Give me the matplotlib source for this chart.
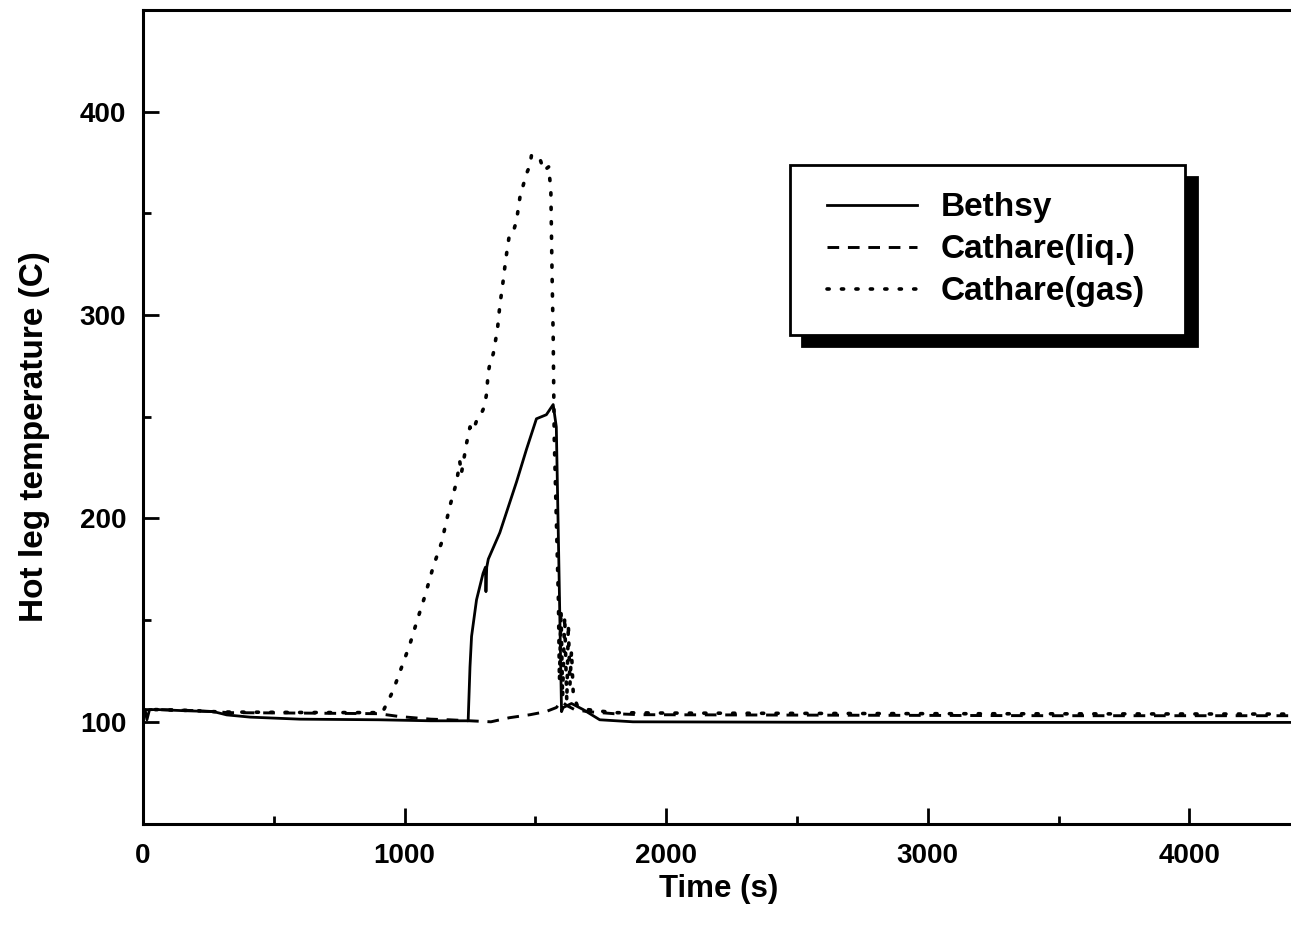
import matplotlib
matplotlib.use("Agg")
import matplotlib.pyplot as plt
from matplotlib.ticker import MultipleLocator
from matplotlib.lines import Line2D
from matplotlib.legend_handler import HandlerLine2D

plt.rcParams['font.family'] = ['Liberation Sans', 'DejaVu Sans']
plt.rcParams['font.weight'] = 'bold'
plt.rcParams['axes.labelweight'] = 'bold'

# Bethsy measurement (solid)
bethsy_t = [0, 8, 15, 25, 60, 150, 270, 320, 410, 600, 900, 1100, 1243,
            1250, 1256, 1275, 1300, 1309, 1311, 1314, 1320, 1364, 1428, 1466,
            1504, 1542, 1568, 1580, 1590, 1600, 1606, 1638, 1683, 1746, 1873,
            2500, 3500, 4400]
bethsy_T = [100.5, 106, 101, 106, 106, 105.5, 105, 103.4, 102.3, 101.3, 101,
            100.5, 100.5, 127, 142, 160, 173, 176, 164, 176, 180, 193, 218,
            234, 249, 251, 256, 245, 176, 105, 107, 109, 106, 101, 100,
            99.8, 99.7, 99.7]

# Cathare liquid temperature (dashed)
liq_t = [0, 10, 60, 200, 270, 330, 600, 900, 980, 1100, 1170, 1330, 1400,
         1480, 1540, 1580, 1600, 1620, 1650, 1700, 1800, 1900, 2500, 3500, 4400]
liq_T = [104, 106, 106, 105.5, 105, 104.5, 104.3, 104, 102.6, 101.3, 101,
         100, 102, 103.5, 105, 107, 110, 108, 106, 105, 104, 103.5, 103.3,
         103, 103]

# Cathare gas temperature (dotted)
gas_t = [0, 10, 60, 200, 270, 330, 600, 915, 932, 955, 989, 1020, 1046, 1078,
         1110, 1141, 1173, 1199, 1211, 1217, 1237, 1250, 1262, 1275, 1288,
         1305, 1313, 1320, 1326, 1339, 1355, 1364, 1376, 1387, 1400, 1415,
         1428, 1441, 1453, 1466, 1479, 1485, 1498, 1517, 1532, 1552, 1555,
         1559, 1561, 1564, 1568, 1572, 1578, 1584, 1588, 1592, 1598, 1604,
         1612, 1620, 1626, 1632, 1638, 1645, 1660, 1700, 1800, 2000, 3000, 4400]
gas_T = [104, 106, 106, 105.5, 105, 104.8, 104.6, 104.5, 109, 115, 127, 138,
         149, 162, 176.5, 188, 206, 218, 228, 222, 237, 245, 243, 248, 250,
         255, 261, 272, 276, 281, 293, 304.6, 316, 327.6, 339, 340.7, 346.5,
         358, 363.6, 369.5, 373.6, 378.5, 377, 377, 371, 373, 367, 362, 344,
         318, 290, 240, 210, 180, 160, 120, 155, 112, 152, 110, 148, 118, 135,
         113, 108, 106, 104.5, 104.3, 104, 103.8]

x_ticks = [0, 1000, 2000, 3000, 4000]
y_ticks = [100, 200, 300, 400]

W, H = 1291, 932
fig = plt.figure(figsize=(W / 100, H / 100), dpi=100)
ax = fig.add_axes([143 / W, 1 - 823.5 / H, 1151 / W, 813.5 / H])

ax.plot(bethsy_t, bethsy_T, color='black', lw=2.0, ls='-', label='Bethsy')
ax.plot(liq_t, liq_T, color='black', lw=2.1, ls=(0, (4, 3)),
        label='Cathare(liq.)')
ax.plot(gas_t, gas_T, color='black', lw=2.6, ls=(0, (0.6, 3.4)),
        dash_capstyle='round', label='Cathare(gas)')

ax.set_xlim(0, 4400)
ax.set_ylim(50, 450)
ax.set_xticks(x_ticks)
ax.set_yticks(y_ticks)
ax.xaxis.set_minor_locator(MultipleLocator(500))
ax.yaxis.set_minor_locator(MultipleLocator(50))

for s in ax.spines.values():
    s.set_linewidth(2.2)

ax.tick_params(which='both', direction='in', top=False, right=False,
               width=2.0, labelsize=20)
ax.tick_params(which='major', length=11.5, pad=12)
ax.tick_params(which='minor', length=6)
ax.tick_params(axis='x', which='major', pad=14)

ax.set_xlabel('Time (s)', fontsize=22.5, labelpad=4)
ax.set_ylabel('Hot leg temperature (C)', fontsize=24)
ax.yaxis.set_label_coords(-0.0808, 0.475)

leg = ax.legend(loc='upper left', bbox_to_anchor=(0.5621, 0.6005, 0.3432, 0.209),
                mode='expand', fontsize=24, frameon=True, fancybox=False,
                shadow={'color': 'black', 'alpha': 1.0, 'ox': 8.5, 'oy': -8.5},
                handler_map={Line2D: HandlerLine2D(xpad=0.29)},
                handlelength=2.99, handletextpad=0.7, borderpad=0.82,
                labelspacing=0.33, borderaxespad=0)
leg.get_frame().set_edgecolor('black')
leg.get_frame().set_linewidth(2.0)

fig.savefig('out.png', dpi=100)
